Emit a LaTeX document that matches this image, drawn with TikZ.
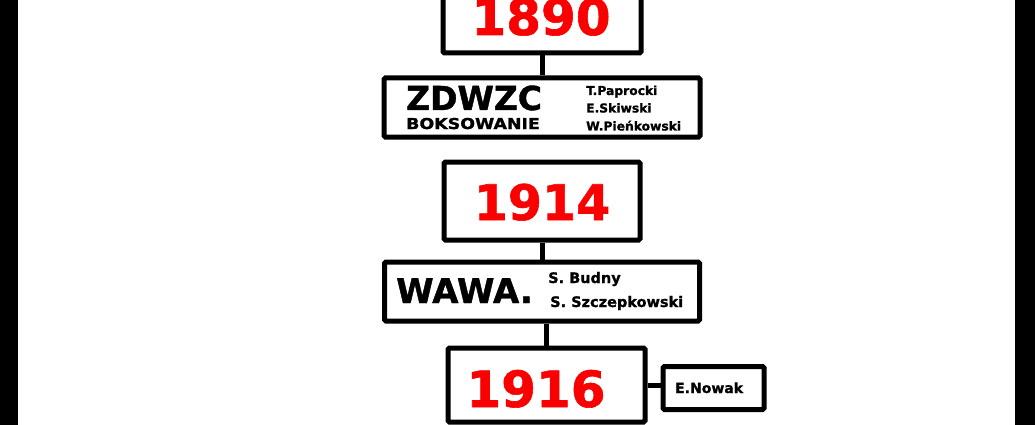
\documentclass[tikz,border=0pt]{standalone}
\usepackage{fontspec}
\setmainfont{DejaVu Sans}
\usepackage{xcolor}
\definecolor{yearred}{RGB}{250,0,0}
\newcommand{\fsz}[1]{\fontsize{#1}{#1}\selectfont\bfseries\addfontfeature{FakeBold=1.2}}

\begin{document}
\begin{tikzpicture}[x=1pt,y=-1pt]
\tikzstyle{box}=[draw, line width=5pt, rounded corners=1.5pt,
                 inner sep=0pt]
\tikzstyle{link}=[line width=5pt]
\tikzstyle{txt}=[inner sep=0pt, anchor=base west]
\tikzstyle{year}=[inner sep=0pt, anchor=base, text=yearred]
\useasboundingbox (0,0) rectangle (1035,425);
% side bars
\fill (0,0) rectangle (18,425);
\fill (1015,0) rectangle (1035,425);
% boxes
\node[box, minimum width=198pt, minimum height=78pt] (b1890) at (542,14){};
\node[box, minimum width=316pt, minimum height=59pt] (zdwzc) at (542,107.5){};
\node[box, minimum width=196pt, minimum height=78pt] (b1914) at (542,201){};
\node[box, minimum width=315pt, minimum height=59pt] (wawa) at (542,291.5){};
\node[box, minimum width=197pt, minimum height=74pt] (b1916) at (546.5,385){};
\node[box, minimum width=101pt, minimum height=43pt] (nowak) at (713.5,388){};
% texts
\node[year] (t1890) at (541,35){\fsz{50}1890};
\node[txt] (tzdwzc) at (406,110){\fsz{33}ZDWZC};
\node[txt] (tboks) at (406,129){\scalebox{1.16}[1]{\fsz{15}BOKSOWANIE}};
\node[txt] (tpap) at (586,95){\fsz{12.3}T.Paprocki};
\node[txt] (tski) at (586,112.5){\fsz{12.3}E.Skiwski};
\node[txt] (tpie) at (586,130.5){\fsz{12.3}W.Pieńkowski};
\node[year] (t1914) at (542,220){\fsz{49}1914};
\node[txt] (twawa) at (396,303){\fsz{34}WAWA.};
\node[txt] (tbud) at (548,283){\fsz{14.5}S. Budny};
\node[txt] (tszc) at (550,307){\fsz{14.5}S. Szczepkowski};
\node[year] (t1916) at (536,407){\fsz{50}1916};
\node[txt] (tnow) at (675,393){\fsz{14}E.Nowak};
% connectors
\foreach \i/\j in {b1890/zdwzc,b1914/wawa}{\draw[link] (\i.south) -- (\j.north);}
\draw[link] (b1916.north) -- (b1916.north |- wawa.south);
\draw[link] (b1916.east) -- (b1916.east -| nowak.west);
\end{tikzpicture}
\end{document}
